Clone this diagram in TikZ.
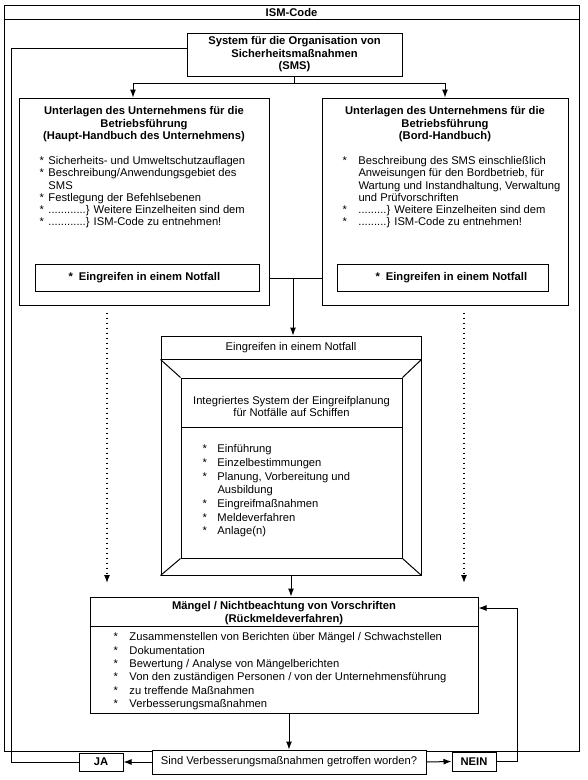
\documentclass[tikz,border=0pt]{standalone}
\usepackage{fontspec}
\setmainfont{Liberation Sans}
\usetikzlibrary{arrows.meta}
\newcommand{\bul}[1][16pt]{\makebox[#1][l]{*}}
\newcommand{\ind}[1][16pt]{\hspace*{#1}}
\newcommand{\boxFont}[1][12.5]{\fontsize{11.2}{#1}\selectfont}

\begin{document}
\begin{tikzpicture}[x=1pt, y=-1pt, font=\boxFont, line width=1pt]
  \tikzset{box/.style={draw, line width=1pt, inner sep=0pt},
    ttl/.style={align=center, inner sep=0pt, font=\boxFont\bfseries},
    lst/.style={align=left, inner sep=0pt, anchor=north west},
    arr/.style={line width=1pt, -{Latex[length=8pt,width=6pt]}},
    dotarr/.style={arr, line width=1.2pt, dash pattern=on 1.2pt off 3.8pt, shorten <=7pt}}
  \useasboundingbox (0,0) rectangle (588,780);
  \node[box, minimum width=575pt, minimum height=746pt] (frame) at (291.5,378) {};
  \node[box, minimum width=575pt, minimum height=14pt, font=\boxFont\bfseries] (ismcode) at (291.5,12) {ISM-Code};
  \node[box, ttl, minimum width=215pt, minimum height=43pt] (sms) at (294.5,54.5)
    {System für die Organisation von\\Sicherheitsmaßnahmen\\(SMS)};
  \node[box, minimum width=250pt, minimum height=207pt] (lbox) at (144,201.5) {};
  \node[box, minimum width=246pt, minimum height=207pt] (rbox) at (445,201.5) {};
  \node[ttl, anchor=north] (ltitle) at (144,106)
    {Unterlagen des Unternehmens für die\\Betriebsführung\\(Haupt-Handbuch des Unternehmens)};
  \node[ttl, anchor=north] (rtitle) at (445,106)
    {Unterlagen des Unternehmens für die\\Betriebsführung\\(Bord-Handbuch)};
  \node[lst, font={\boxFont[12.2]}] (llist) at (39,156)
    {\bul[9pt]Sicherheits- und Umweltschutzauflagen\\
     \bul[9pt]Beschreibung/Anwendungsgebiet des\\
     \ind[9pt]SMS\\
     \bul[9pt]Festlegung der Befehlsebenen\\
     \bul[9pt]............\} Weitere Einzelheiten sind dem\\
     \bul[9pt]............\} ISM-Code zu entnehmen!};
  \node[lst, font={\boxFont[12.2]}] (rlist) at (342,156)
    {\bul Beschreibung des SMS einschließlich\\
     \ind Anweisungen für den Bordbetrieb, für\\
     \ind Wartung und Instandhaltung, Verwaltung\\
     \ind und Prüfvorschriften\\
     \bul .........\} Weitere Einzelheiten sind dem\\
     \bul .........\} ISM-Code zu entnehmen!};
  \node[box, minimum width=224pt, minimum height=27pt] (lnot) at (147,277.5) {};
  \node[box, minimum width=211pt, minimum height=27pt] (rnot) at (442.5,277.5) {};
  \node[ttl, anchor=west] (lnottext) at (68,277.5) {*\hspace{6pt}Eingreifen in einem Notfall};
  \node[ttl, anchor=west] (rnottext) at (375,277.5) {*\hspace{6pt}Eingreifen in einem Notfall};
  \node[box, minimum width=260pt, minimum height=239pt] (notfall) at (291,455.5) {};
  \node[box, minimum width=221pt, minimum height=180pt] (plan) at (291.5,468) {};
  \node[inner sep=0pt] (nhead) at (291,348) {Eingreifen in einem Notfall};
  \node[align=center, inner sep=0pt] (ptitle) at (291.5,406.5)
    {Integriertes System der Eingreifplanung\\für Notfälle auf Schiffen};
  \node[lst, font={\boxFont[13.7]}] (plist) at (202,444)
    {\bul[15pt]Einführung\\
     \bul[15pt]Einzelbestimmungen\\
     \bul[15pt]Planung, Vorbereitung und\\
     \ind[15pt]Ausbildung\\
     \bul[15pt]Eingreifmaßnahmen\\
     \bul[15pt]Meldeverfahren\\
     \bul[15pt]Anlage(n)};
  \node[box, minimum width=388pt, minimum height=116pt] (maengel) at (284,655) {};
  \node[ttl, anchor=north] (mtitle) at (284,601)
    {Mängel / Nichtbeachtung von Vorschriften\\(Rückmeldeverfahren)};
  \node[lst, font={\boxFont[13.4]}] (mlist) at (113,632)
    {\bul Zusammenstellen von Berichten über Mängel / Schwachstellen\\
     \bul Dokumentation\\
     \bul Bewertung / Analyse von Mängelberichten\\
     \bul Von den zuständigen Personen / von der Unternehmensführung\\
     \bul zu treffende Maßnahmen\\
     \bul Verbesserungsmaßnahmen};
  \node[box, fill=white, minimum width=274pt, minimum height=24pt] (entscheid) at (289,762)
    {Sind Verbesserungsmaßnahmen getroffen worden?};
  \node[box, minimum width=44pt, minimum height=18pt, font=\boxFont\bfseries] (ja) at (101,762) {JA};
  \node[box, minimum width=44pt, minimum height=19pt, font=\boxFont\bfseries] (nein) at (474,761.5) {NEIN};
  \draw ([yshift=-24pt]notfall.north west) -- ([yshift=-24pt]notfall.north east);
  \draw ([yshift=-24pt]notfall.north west) -- (plan.north west);
  \draw ([yshift=-24pt]notfall.north east) -- (plan.north east);
  \draw (notfall.south west) -- (plan.south west);
  \draw (notfall.south east) -- (plan.south east);
  \draw ([yshift=-50pt]plan.north west) -- ([yshift=-50pt]plan.north east);
  \draw ([yshift=-30pt]maengel.north west) -- ([yshift=-30pt]maengel.north east);
  \coordinate (split) at (294.5,83);
  \coordinate (join) at (293,278);
  \coordinate (jaloop) at (11,48);
  \coordinate (neinloop) at (517,608);
  \coordinate (ldot) at (107,583);
  \coordinate (rdot) at (464,583);
  \draw (sms.south) -- (split);
  \draw[arr] (split) -| ([xshift=-11pt]lbox.north);
  \draw[arr] (split) -| (rbox.north);
  \draw (lbox.east |- join) -- (rbox.west |- join);
  \draw[arr] (join) -- (notfall.north -| join);
  \draw[arr] (notfall.south) -- (maengel.north -| notfall.south);
  \draw[arr] (maengel.south -| entscheid.north) -- (entscheid.north);
  \draw[dotarr] (lbox.south -| ldot) -- (ldot);
  \draw[dotarr] (rbox.south -| rdot) -- (rdot);
  \draw ([yshift=6.5pt]sms.west) -- (jaloop) |- (ja.west);
  \draw[arr] (entscheid.west) -- (ja.east);
  \draw[arr] (entscheid.east) -- (nein.west);
  \draw[arr] (nein.east) -| (neinloop) -- (maengel.east |- neinloop);
\end{tikzpicture}
\end{document}
